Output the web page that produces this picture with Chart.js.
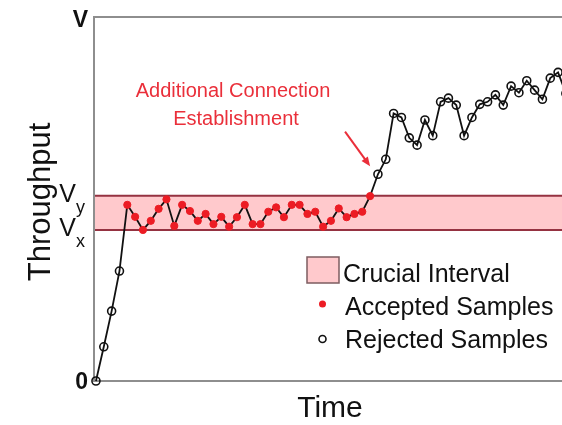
<!DOCTYPE html>
<html>
<head>
<meta charset="utf-8">
<script src="https://cdn.jsdelivr.net/npm/chart.js@4.4.0/dist/chart.umd.min.js"></script>
<style>
  html, body { margin: 0; padding: 0; background: #fff; }
  #wrap { width: 562px; height: 425px; }
</style>
</head>
<body>
<div id="wrap"><canvas id="tput" width="562" height="425"></canvas></div>
<script>
/* ── Throughput samples over time (V = 1) ── */
const V_X = 0.415;   // lower bound of the crucial interval
const V_Y = 0.509;   // upper bound of the crucial interval
const V_MAX = 1;

const timeIdx = [
   0,  1,  2,  3,  4,  5,  6,  7,  8,  9,
  10, 11, 12, 13, 14, 15, 16, 17, 18, 19,
  20, 21, 22, 23, 24, 25, 26, 27, 28, 29,
  30, 31, 32, 33, 34, 35, 36, 37, 38, 39,
  40, 41, 42, 43, 44, 45, 46, 47, 48, 49,
  50, 51, 52, 53, 54, 55, 56, 57, 58, 59, 60,
];
const throughput = [
  0.000, 0.094, 0.192, 0.302, 0.484, 0.451, 0.415, 0.440, 0.473, 0.499,
  0.426, 0.484, 0.467, 0.440, 0.459, 0.431, 0.451, 0.424, 0.450, 0.484,
  0.431, 0.431, 0.465, 0.477, 0.450, 0.484, 0.484, 0.459, 0.465, 0.424,
  0.440, 0.474, 0.450, 0.459, 0.465, 0.508, 0.568, 0.609, 0.735, 0.724,
  0.668, 0.648, 0.717, 0.674, 0.767, 0.777, 0.758, 0.674, 0.724, 0.760,
  0.767, 0.786, 0.758, 0.810, 0.792, 0.825, 0.799, 0.774, 0.832, 0.848, 0.790,
];

/* y tick labels: [main, subscript] */
const yTickValues = [0, V_X, V_Y, V_MAX];
const yTickLabels = [['0', ''], ['V', 'x'], ['V', 'y'], ['V', '']];

const legendLabels = ['Crucial Interval', 'Accepted Samples', 'Rejected Samples'];
const noteLines = ['Additional Connection', 'Establishment'];

/* ── Colours / fonts ── */
const RED       = '#ec1c24';
const NOTE_RED  = '#ea2f3a';
const BAND_FILL = '#ffc9cc';
const BAND_LINE = '#953241';
const AXIS_GRAY = '#8e8e8e';
const INK       = '#111';
const FONT      = '"Liberation Sans", Arial, sans-serif';

const isAccepted = v => v >= V_X && v <= V_Y;

/* Crucial interval band + plot frame, under the data */
const bandPlugin = {
  id: 'band',
  beforeDatasetsDraw(chart) {
    const { ctx, chartArea: a, scales: { y } } = chart;
    const top = y.getPixelForValue(V_Y);
    const bot = y.getPixelForValue(V_X);
    ctx.save();
    ctx.fillStyle = BAND_FILL;
    ctx.fillRect(a.left, top, a.right - a.left, bot - top);
    ctx.strokeStyle = BAND_LINE;
    ctx.lineWidth = 2;
    ctx.beginPath();
    ctx.moveTo(a.left, top); ctx.lineTo(a.right, top);
    ctx.moveTo(a.left, bot); ctx.lineTo(a.right, bot);
    ctx.stroke();

    // frame: left, top and bottom edges
    ctx.strokeStyle = AXIS_GRAY;
    ctx.lineWidth = 2;
    ctx.beginPath();
    ctx.moveTo(a.right, a.top); ctx.lineTo(a.left, a.top);
    ctx.lineTo(a.left, a.bottom); ctx.lineTo(a.right, a.bottom);
    ctx.stroke();
    ctx.restore();
  },
};

/* Tick labels, axis titles, annotation and legend */
const textPlugin = {
  id: 'texts',
  afterDraw(chart) {
    const { ctx, chartArea: a, scales: { x, y } } = chart;
    ctx.save();
    ctx.fillStyle = INK;
    ctx.textBaseline = 'alphabetic';

    // y tick labels
    yTickValues.forEach((v, i) => {
      const [main, sub] = yTickLabels[i];
      const py = y.getPixelForValue(v);
      if (sub) {
        ctx.font = '25px ' + FONT;
        ctx.textAlign = 'right';
        ctx.fillText(main, 76, py + 6);
        ctx.font = '18px ' + FONT;
        ctx.textAlign = 'left';
        ctx.fillText(sub, 76, py + 17);
      } else {
        ctx.font = 'bold 23px ' + FONT;
        ctx.textAlign = 'right';
        ctx.fillText(main, 88, py + (v === 0 ? 8 : 10));
      }
    });

    // axis titles
    ctx.font = '30px ' + FONT;
    ctx.textAlign = 'center';
    ctx.fillText('Time', 330, 417);
    ctx.save();
    ctx.translate(50, 202);
    ctx.rotate(-Math.PI / 2);
    ctx.font = '31px ' + FONT;
    ctx.fillText('Throughput', 0, 0);
    ctx.restore();

    // annotation
    ctx.fillStyle = NOTE_RED;
    ctx.font = '20px ' + FONT;
    ctx.textAlign = 'center';
    ctx.fillText(noteLines[0], 233, 97);
    ctx.fillText(noteLines[1], 236, 125);

    const tx = x.getPixelForValue(31.8), ty = y.getPixelForValue(0.685);
    const hx = x.getPixelForValue(35.0), hy = y.getPixelForValue(0.59);
    const ang = Math.atan2(hy - ty, hx - tx);
    ctx.strokeStyle = NOTE_RED;
    ctx.lineWidth = 2;
    ctx.beginPath();
    ctx.moveTo(tx, ty);
    ctx.lineTo(hx - 6 * Math.cos(ang), hy - 6 * Math.sin(ang));
    ctx.stroke();
    ctx.beginPath();
    ctx.moveTo(hx, hy);
    ctx.lineTo(hx - 10 * Math.cos(ang - 0.4), hy - 10 * Math.sin(ang - 0.4));
    ctx.lineTo(hx - 10 * Math.cos(ang + 0.4), hy - 10 * Math.sin(ang + 0.4));
    ctx.closePath();
    ctx.fill();

    // legend
    ctx.fillStyle = BAND_FILL;
    ctx.fillRect(307, 257, 32, 26);
    ctx.strokeStyle = '#7d5c60';
    ctx.lineWidth = 1.5;
    ctx.strokeRect(307, 257, 32, 26);

    ctx.fillStyle = RED;
    ctx.beginPath();
    ctx.arc(322.5, 304, 3.5, 0, Math.PI * 2);
    ctx.fill();

    ctx.strokeStyle = INK;
    ctx.lineWidth = 1.6;
    ctx.beginPath();
    ctx.arc(322.5, 339, 3.5, 0, Math.PI * 2);
    ctx.stroke();

    ctx.fillStyle = INK;
    ctx.font = '25px ' + FONT;
    ctx.textAlign = 'left';
    ctx.fillText(legendLabels[0], 343, 282);
    ctx.fillText(legendLabels[1], 345, 315);
    ctx.fillText(legendLabels[2], 345, 348);
    ctx.restore();
  },
};

new Chart(document.getElementById('tput'), {
  type: 'line',
  data: {
    datasets: [{
      data: throughput.map((v, i) => ({ x: timeIdx[i], y: v })),
      borderColor: INK,
      borderWidth: 1.8,
      tension: 0,
      clip: false,
      pointRadius:          c => isAccepted(c.raw.y) ? 3.6 : 4,
      pointBackgroundColor: c => isAccepted(c.raw.y) ? RED : 'rgba(0,0,0,0)',
      pointBorderColor:     c => isAccepted(c.raw.y) ? RED : INK,
      pointBorderWidth:     c => isAccepted(c.raw.y) ? 1 : 1.6,
    }],
  },
  options: {
    responsive: false,
    animation: false,
    layout: { autoPadding: false, padding: { left: 94, top: 17, right: 0, bottom: 44 } },
    plugins: { legend: { display: false }, tooltip: { enabled: false } },
    scales: {
      x: { type: 'linear', min: -0.25, max: 59.5, display: false },
      y: { type: 'linear', min: 0, max: V_MAX, display: false },
    },
  },
  plugins: [bandPlugin, textPlugin],
});
</script>
</body>
</html>
